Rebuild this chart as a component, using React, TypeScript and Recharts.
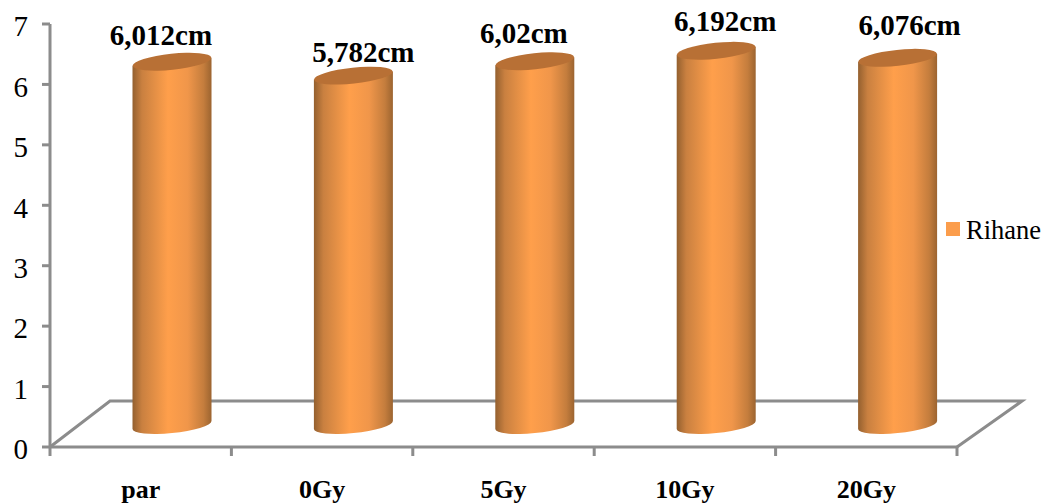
import { Bar, BarChart, LabelList, Legend, ReferenceArea, XAxis, YAxis } from "recharts";

const categories = ["par", "0Gy", "5Gy", "10Gy", "20Gy"];
const heights = [6.012, 5.782, 6.02, 6.192, 6.076];
const yTicks = [0, 1, 2, 3, 4, 5, 6, 7];

// hand placed data labels in the original, nudged from the bar centre
const labelNudgeX = [-11, 10, -11, 9, 12];
const labelNudgeY = [-27, -24, -28, -30, -33];

const data = categories.map((name, i) => ({ name, Rihane: heights[i] }));

const GREY = "#8c8c8c";
const FONT = "'Liberation Serif', serif";
// the fake 3D depth of the excel chart
const DEPTH_X = 31.5;
const DEPTH_Y = 22;
const SLANT = 4;

const Cylinder = (props: any) => {
  const { x, y, width, height } = props;
  const left = x + DEPTH_X;
  const right = left + width;
  const top = y - DEPTH_Y;
  const bottom = y + height - DEPTH_Y;
  const rx = width / 2;
  return (
    <g>
      <path
        d={`M${left},${top + SLANT} L${left},${bottom + SLANT} A${rx},8 -6 0 0 ${right},${bottom - SLANT} L${right},${top - SLANT} Z`}
        fill="url(#cylinderBody)"
      />
      <ellipse
        cx={left + rx}
        cy={top}
        rx={rx}
        ry={8}
        transform={`rotate(-6 ${left + rx} ${top})`}
        fill="#b87035"
      />
    </g>
  );
};

const Floor = (props: any) => {
  const { x, y, width, height } = props;
  const base = y + height;
  const step = width / categories.length;
  return (
    <g stroke={GREY} strokeWidth={3} fill="none">
      <path d={`M${x},${base} L${x + 60},${y} L${x + width + 65},${y} L${x + width},${base}`} />
      {[0, 1, 2, 3, 4, 5].map((i) => (
        <line key={i} x1={x + i * step} y1={base} x2={x + i * step} y2={base + 9} />
      ))}
    </g>
  );
};

const ValueLabel = (props: any) => {
  const { x, y, width, value, index } = props;
  return (
    <text
      x={x + width / 2 + DEPTH_X + labelNudgeX[index]}
      y={y - DEPTH_Y + labelNudgeY[index]}
      dy="0.35em"
      textAnchor="middle"
      fontFamily={FONT}
      fontWeight="bold"
      fontSize={29}
      fill="#000"
    >
      {String(value).replace(".", ",") + "cm"}
    </text>
  );
};

const LegendRow = () => (
  <div style={{ display: "flex", alignItems: "center", fontFamily: FONT, fontSize: 26.5, color: "#000", whiteSpace: "nowrap" }}>
    <span style={{ width: 14, height: 14, background: "#fb9d4c", marginRight: 6, flexShrink: 0 }} />
    <span style={{ position: "relative", top: 2 }}>Rihane</span>
  </div>
);

export default function App() {
  return (
    <div style={{ position: "absolute", left: 0, top: 0, width: 1043, height: 503, background: "#fff" }}>
      <BarChart
        width={1043}
        height={503}
        data={data}
        barSize={79}
        margin={{ top: 24, right: 86, bottom: 0, left: 0 }}
      >
        <defs>
          <linearGradient id="cylinderBody" x1="0" y1="0" x2="1" y2="0">
            <stop offset="0" stopColor="#94602f" />
            <stop offset="0.12" stopColor="#c98040" />
            <stop offset="0.45" stopColor="#ff9f4b" />
            <stop offset="0.7" stopColor="#f0964a" />
            <stop offset="0.9" stopColor="#c47d3d" />
            <stop offset="1" stopColor="#9c6430" />
          </linearGradient>
        </defs>
        <XAxis
          dataKey="name"
          height={56}
          axisLine={{ stroke: GREY, strokeWidth: 3 }}
          tickLine={false}
          tickMargin={27}
          interval={0}
          tick={{ fontFamily: FONT, fontWeight: "bold", fontSize: 26, fill: "#000" }}
        />
        <YAxis
          width={50}
          domain={[0, 7]}
          ticks={yTicks}
          axisLine={{ stroke: GREY, strokeWidth: 3 }}
          tickLine={{ stroke: GREY, strokeWidth: 3 }}
          tickSize={8}
          tickMargin={14}
          tick={{ fontFamily: FONT, fontSize: 29, fill: "#000", dy: 2 }}
        />
        <ReferenceArea y1={0} y2={0.76} ifOverflow="visible" shape={Floor} />
        <Bar dataKey="Rihane" isAnimationActive={false} shape={Cylinder}>
          <LabelList dataKey="Rihane" content={ValueLabel} />
        </Bar>
        <Legend
          layout="vertical"
          align="center"
          verticalAlign="middle"
          content={LegendRow}
          wrapperStyle={{ position: "absolute", left: 946, top: 213, width: 97 }}
        />
      </BarChart>
    </div>
  );
}
